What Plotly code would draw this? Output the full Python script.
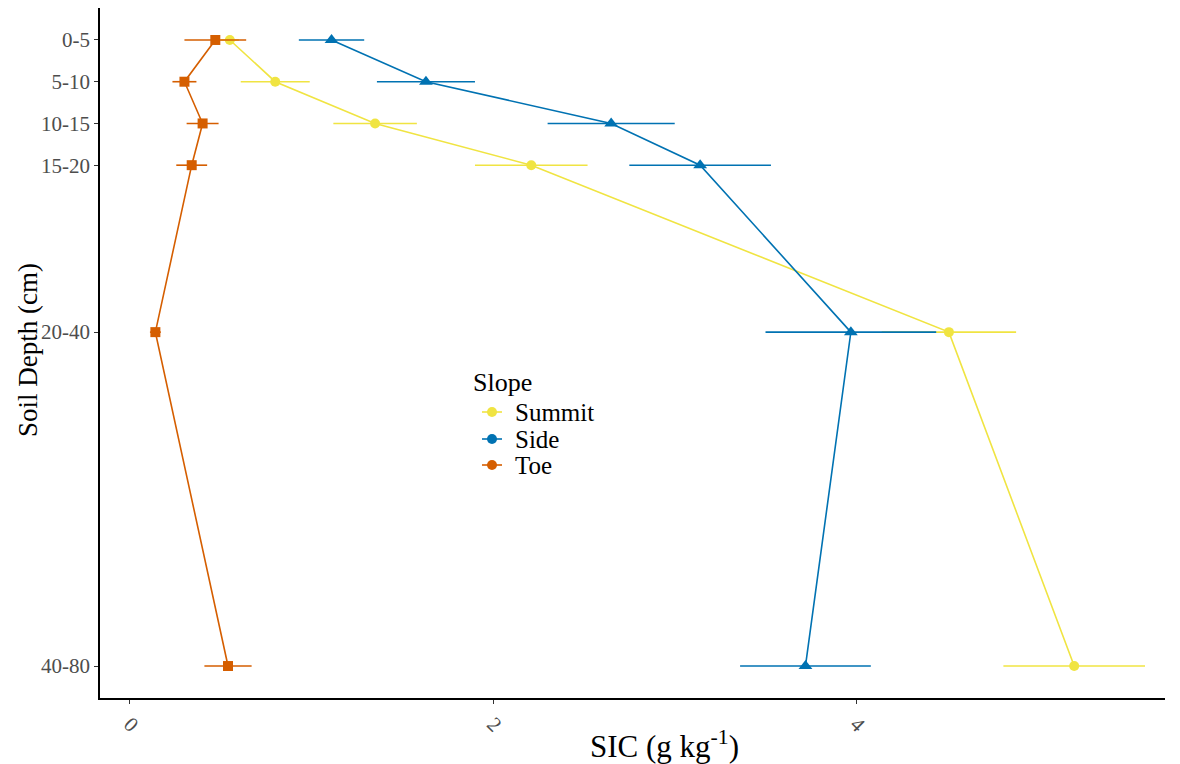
import plotly.graph_objects as go

depth_labels = ["0-5", "5-10", "10-15", "15-20", "20-40", "40-80"]
depth_pos = [5, 10, 15, 20, 40, 80]

summit_sic = [0.55, 0.80, 1.35, 2.21, 4.51, 5.20]
summit_err = [0.05, 0.19, 0.23, 0.31, 0.37, 0.39]
side_sic = [1.11, 1.63, 2.65, 3.14, 3.97, 3.72]
side_err = [0.18, 0.27, 0.35, 0.39, 0.47, 0.36]
toe_sic = [0.47, 0.30, 0.40, 0.34, 0.14, 0.54]
toe_err = [0.17, 0.066, 0.088, 0.085, 0.03, 0.13]

slope_names = ["Summit", "Side", "Toe"]
slope_colors = ["#F0E442", "#0072B2", "#D55E00"]
slope_symbols = ["circle", "triangle-up", "square"]
slope_sizes = [10, 12, 10]
slope_values = [summit_sic, side_sic, toe_sic]
slope_errors = [summit_err, side_err, toe_err]

FONT = "Liberation Serif"
# page has an 8px body margin; size the figure to fit the 1180x764 window
OFF = 8
W, H = 1180 - OFF, 764 - OFF
ML, MR, MT, MB = 92, 15, 0, 66
PW, PH = W - ML - MR, H - MT - MB


def px(sx):
    return (sx - OFF - ML) / PW


def py(sy):
    return 1 - (sy - OFF - MT) / PH


fig = go.Figure()
for name, xs, errs, col, sym, sz in zip(slope_names, slope_values, slope_errors,
                                        slope_colors, slope_symbols, slope_sizes):
    fig.add_trace(go.Scatter(
        x=xs, y=depth_pos, mode="lines+markers", name=name,
        line=dict(color=col, width=1.6),
        marker=dict(color=col, symbol=sym, size=sz),
        error_x=dict(type="data", array=errs, color=col, thickness=1.6, width=0),
        showlegend=False,
    ))

annotations = [
    dict(text="SIC (g kg<sup>-1</sup>)", xref="paper", yref="paper",
         x=px(664), y=py(745), xanchor="center", yanchor="middle", showarrow=False,
         font=dict(size=31, family=FONT, color="black")),
    dict(text="Soil Depth (cm)", xref="paper", yref="paper",
         x=px(28), y=py(350), xanchor="center", yanchor="middle", showarrow=False,
         textangle=-90, font=dict(size=27, family=FONT, color="black")),
    dict(text="Slope", xref="paper", yref="paper",
         x=px(471), y=py(382), xanchor="left", yanchor="middle", showarrow=False,
         font=dict(size=26, family=FONT, color="black")),
]
shapes = []
item_y = [412, 439, 465]
for name, col, sy in zip(slope_names, slope_colors, item_y):
    annotations.append(dict(
        text=name, xref="paper", yref="paper", x=px(513), y=py(sy),
        xanchor="left", yanchor="middle", showarrow=False,
        font=dict(size=25, family=FONT, color="black")))
    shapes.append(dict(type="line", xref="paper", yref="paper",
                       x0=px(482), x1=px(502), y0=py(sy), y1=py(sy),
                       line=dict(color=col, width=1.6)))
    shapes.append(dict(type="circle", xref="paper", yref="paper",
                       xsizemode="pixel", ysizemode="pixel",
                       xanchor=px(492), yanchor=py(sy),
                       x0=-5, x1=5, y0=-5, y1=5,
                       fillcolor=col, line=dict(color=col, width=0)))

fig.update_layout(
    width=W, height=H,
    margin=dict(l=ML, r=MR, t=MT, b=MB),
    paper_bgcolor="white", plot_bgcolor="white",
    font=dict(family=FONT, color="black"),
    showlegend=False,
    xaxis=dict(
        range=[-0.165, 5.70], tickvals=[0, 2, 4], ticktext=["0", "2", "4"],
        tickangle=45, showgrid=False, zeroline=False, automargin=False,
        showline=True, linecolor="black", linewidth=1.5,
        ticks="outside", ticklen=4, tickcolor="#333333",
        tickfont=dict(size=21, color="#4D4D4D", family=FONT),
    ),
    yaxis=dict(
        range=[83.83, 1.17], tickvals=depth_pos, ticktext=depth_labels,
        showgrid=False, zeroline=False, automargin=False,
        showline=True, linecolor="black", linewidth=1.5,
        ticks="outside", ticklen=4, tickcolor="#333333",
        tickfont=dict(size=21, color="#4D4D4D", family=FONT),
    ),
    annotations=annotations,
    shapes=shapes,
)

fig.write_html("out.html")
